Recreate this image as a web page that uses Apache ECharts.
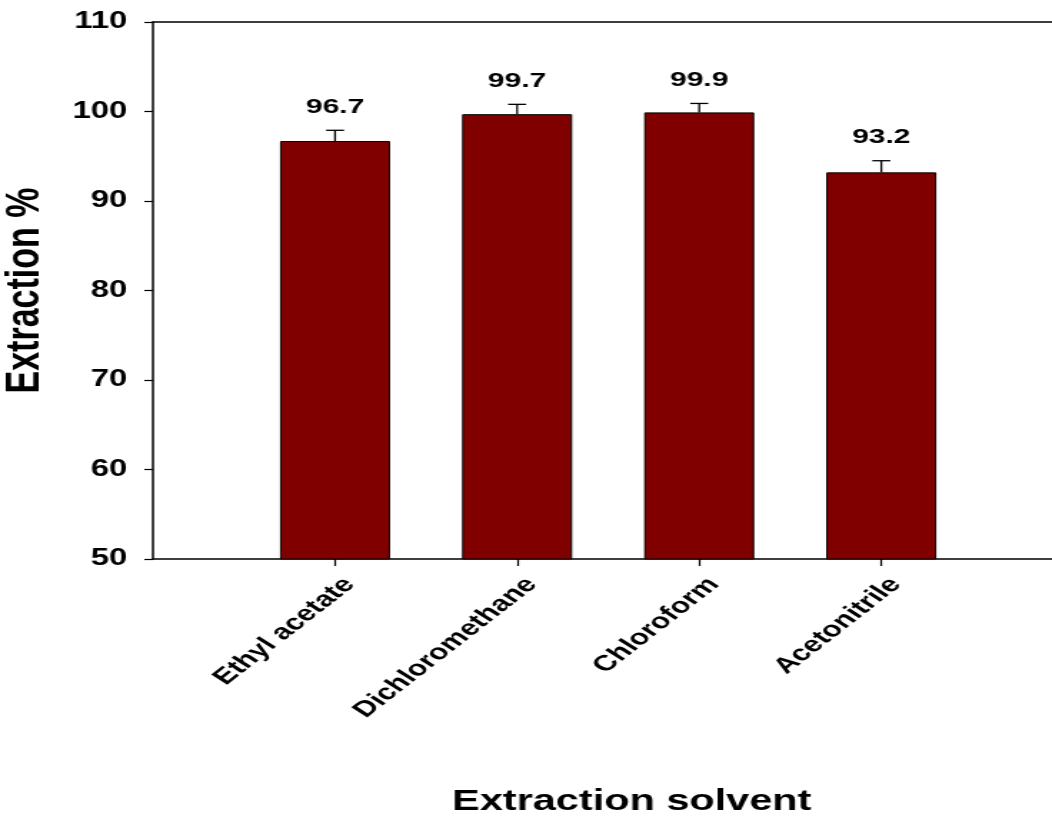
<!DOCTYPE html>
<html>
<head>
<meta charset="utf-8">
<script src="https://cdn.jsdelivr.net/npm/echarts@6/dist/echarts.min.js"></script>
<style>
  html, body { margin: 0; padding: 0; background: #fff; overflow: hidden; }
  #wrap { width: 1052px; height: 822px; overflow: hidden; }
  /* chart is laid out on a narrower canvas and widened horizontally */
  #chart { width: 736px; height: 822px; transform: scaleX(1.4293); transform-origin: 0 0; }
</style>
</head>
<body>
<div id="wrap"><div id="chart"></div></div>
<script>
// Extraction efficiency by solvent
const categories = ['Ethyl acetate', 'Dichloromethane', 'Chloroform', 'Acetonitrile'];
const positions = [1, 2, 3, 4];
const extraction = [96.7, 99.7, 99.9, 93.2];
const errors = [1.2, 1.1, 1.0, 1.3];

const FONT = '"Liberation Sans", Arial, sans-serif';

const barData = positions.map((p, i) => [p, extraction[i]]);
const errData = positions.map((p, i) => [p, extraction[i], errors[i]]);

const chart = echarts.init(document.getElementById('chart'), null, { renderer: 'canvas' });

chart.setOption({
  backgroundColor: '#ffffff',
  animation: false,
  grid: { left: 107, right: -8, top: 22, bottom: 263, outerBoundsMode: 'none' },
  xAxis: [
    {
      type: 'value', min: 0, max: 5, position: 'bottom',
      axisLine: { show: true, lineStyle: { color: '#000', width: 1.5 } },
      axisTick: { show: true, inside: false, length: 7, customValues: positions, lineStyle: { color: '#000', width: 1.2 } },
      axisLabel: {
        customValues: positions,
        rotate: 48, margin: 33,
        padding: [0, -15, 0, 0],
        color: '#000', fontFamily: FONT, fontWeight: 'bold', fontSize: 22,
        formatter: v => categories[positions.indexOf(Math.round(v))] || ''
      },
      splitLine: { show: false }
    },
    {
      type: 'value', min: 0, max: 5, position: 'top',
      axisLine: { show: true, lineStyle: { color: '#000', width: 1.5 } },
      axisTick: { show: false }, axisLabel: { show: false }, splitLine: { show: false }
    }
  ],
  yAxis: {
    type: 'value', min: 50, max: 110, interval: 10,
    name: 'Extraction %', nameLocation: 'middle', nameGap: 72, nameRotate: 90,
    nameTextStyle: { color: '#000', fontFamily: FONT, fontWeight: 'bold', fontSize: 34 },
    axisLine: { show: true, lineStyle: { color: '#000', width: 1.5 } },
    axisTick: { show: true, inside: false, length: 6, lineStyle: { color: '#000', width: 1.2 } },
    axisLabel: { margin: 18, color: '#000', fontFamily: FONT, fontWeight: 'bold', fontSize: 23 },
    splitLine: { show: false }
  },
  graphic: [{
    type: 'text', x: 442, y: 802,
    style: {
      text: 'Extraction solvent', align: 'center', verticalAlign: 'middle',
      fill: '#000', font: 'bold 29px ' + FONT
    }
  }],
  series: [
    {
      type: 'bar', data: barData, barWidth: 77,
      itemStyle: { color: '#800000', borderColor: '#000', borderWidth: 1 }
    },
    {
      // upper error whisker with cap, and the value label above it
      type: 'custom', data: errData, clip: false, z: 5,
      renderItem: (params, api) => {
        const x = api.value(0), v = api.value(1), e = api.value(2);
        const base = api.coord([x, v]);
        const top = api.coord([x, v + e]);
        const cap = 6.3;
        return {
          type: 'group',
          children: [
            { type: 'line', shape: { x1: base[0], y1: base[1], x2: top[0], y2: top[1] }, style: { stroke: '#000', lineWidth: 1.3 } },
            { type: 'line', shape: { x1: top[0] - cap, y1: top[1], x2: top[0] + cap, y2: top[1] }, style: { stroke: '#000', lineWidth: 1.3 } },
            { type: 'text', x: top[0], y: top[1] - 13,
              style: { text: v.toFixed(1), align: 'center', verticalAlign: 'bottom', fill: '#000', font: 'bold 21px ' + FONT } }
          ]
        };
      }
    }
  ]
});
</script>
</body>
</html>
